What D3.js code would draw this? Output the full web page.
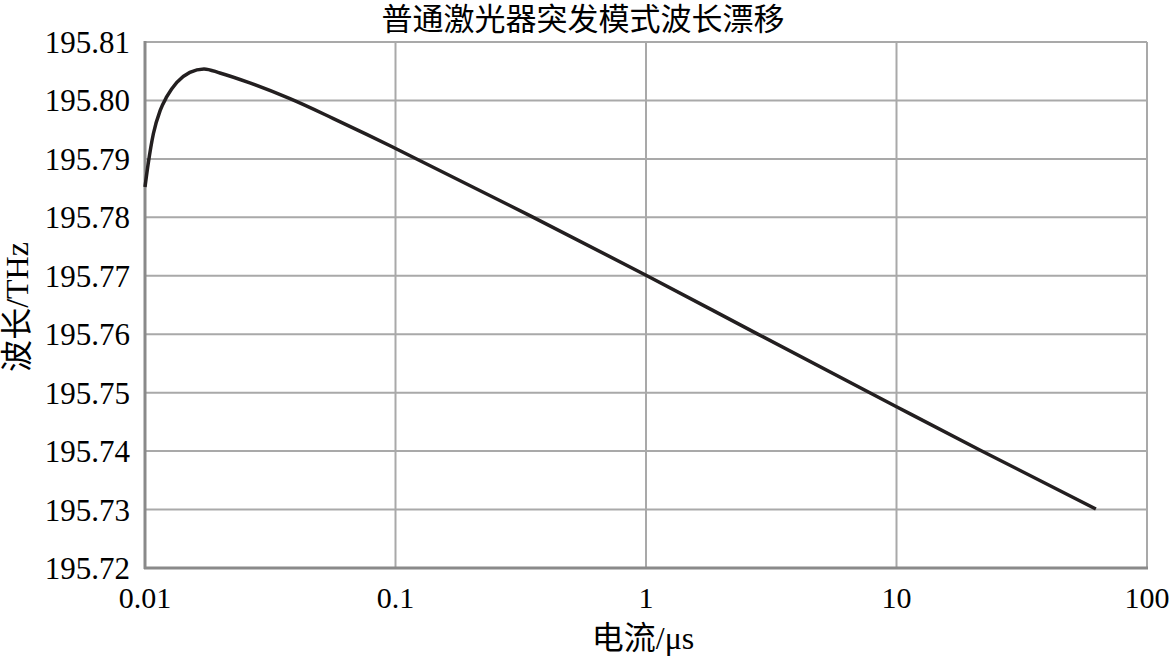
<!DOCTYPE html>
<html>
<head>
<meta charset="utf-8">
<script src="https://cdn.jsdelivr.net/npm/d3@7"></script>
<style>
  html, body { margin: 0; padding: 0; background: #fff; }
  svg text { font-family: "Liberation Serif", "Noto Sans CJK SC", serif; fill: #000; }
</style>
</head>
<body>
<svg id="chart" width="1171" height="657"></svg>
<script>
const title = "普通激光器突发模式波长漂移";
const xLabel = "电流/μs";
const yLabel = "波长/THz";
const xTicks = [0.01, 0.1, 1, 10, 100];
const xTickLabels = ["0.01", "0.1", "1", "10", "100"];
const yTicks = [195.72, 195.73, 195.74, 195.75, 195.76, 195.77, 195.78, 195.79, 195.80, 195.81];
const yTickLabels = ["195.72", "195.73", "195.74", "195.75", "195.76", "195.77", "195.78", "195.79", "195.80", "195.81"];
const timeValues = [0.01, 0.0103, 0.0108, 0.0115, 0.0122, 0.0134, 0.0151, 0.0172, 0.0199, 0.0262, 0.0379, 0.0565, 0.0767, 0.101, 0.344, 1.0, 2.77, 10, 21.5, 62.5];
const freqValues = [195.7852, 195.7892, 195.7943, 195.7983, 195.8006, 195.8031, 195.8048, 195.8054, 195.8047, 195.8030, 195.8003, 195.7969, 195.7942, 195.7917, 195.7803, 195.7701, 195.7601, 195.7476, 195.7402, 195.7301];

const svg = d3.select("#chart");
const L = 145, R = 1147, T = 42, B = 568;
const x = d3.scaleLog().domain([0.01, 100]).range([L, R]);
const y = d3.scaleLinear().domain([195.72, 195.81]).range([B, T]);

// grid
const g = svg.append("g");
g.selectAll("line.hg").data(yTicks).join("line")
  .attr("x1", L).attr("x2", R)
  .attr("y1", d => y(d)).attr("y2", d => y(d))
  .attr("stroke", "#a9a9a9").attr("stroke-width", 2);
g.selectAll("line.vg").data(xTicks).join("line")
  .attr("y1", T).attr("y2", B)
  .attr("x1", d => x(d)).attr("x2", d => x(d))
  .attr("stroke", "#a9a9a9").attr("stroke-width", 2);

// axes frame (left & bottom darker)
g.append("line").attr("x1", L).attr("x2", L).attr("y1", T - 1).attr("y2", B + 1)
  .attr("stroke", "#8a8a8a").attr("stroke-width", 3);
g.append("line").attr("x1", L - 1).attr("x2", R + 1).attr("y1", B).attr("y2", B)
  .attr("stroke", "#8a8a8a").attr("stroke-width", 3);

// tick labels
svg.append("g").selectAll("text").data(yTicks).join("text")
  .attr("x", 130).attr("y", d => y(d) + 11)
  .attr("text-anchor", "end").attr("font-size", 31)
  .text((d, i) => yTickLabels[i]);
svg.append("g").selectAll("text").data(xTicks).join("text")
  .attr("x", d => x(d)).attr("y", 608)
  .attr("text-anchor", "middle").attr("font-size", 30)
  .text((d, i) => xTickLabels[i]);

// data line
const data = timeValues.map((t, i) => ({ t, f: freqValues[i] }));
svg.append("path").datum(data)
  .attr("fill", "none").attr("stroke", "#231f20").attr("stroke-width", 3.5)
  .attr("stroke-linejoin", "round")
  .attr("d", d3.line().x(d => x(d.t)).y(d => y(d.f)).curve(d3.curveMonotoneX));

// title & labels
svg.append("text").attr("x", 583).attr("y", 30).attr("text-anchor", "middle")
  .attr("font-size", 31).text(title);
svg.append("text").attr("x", 643).attr("y", 649).attr("text-anchor", "middle")
  .attr("font-size", 32).text(xLabel);
svg.append("text").attr("transform", "translate(28,307) rotate(-90)")
  .attr("text-anchor", "middle").attr("font-size", 32).text(yLabel);
</script>
</body>
</html>
